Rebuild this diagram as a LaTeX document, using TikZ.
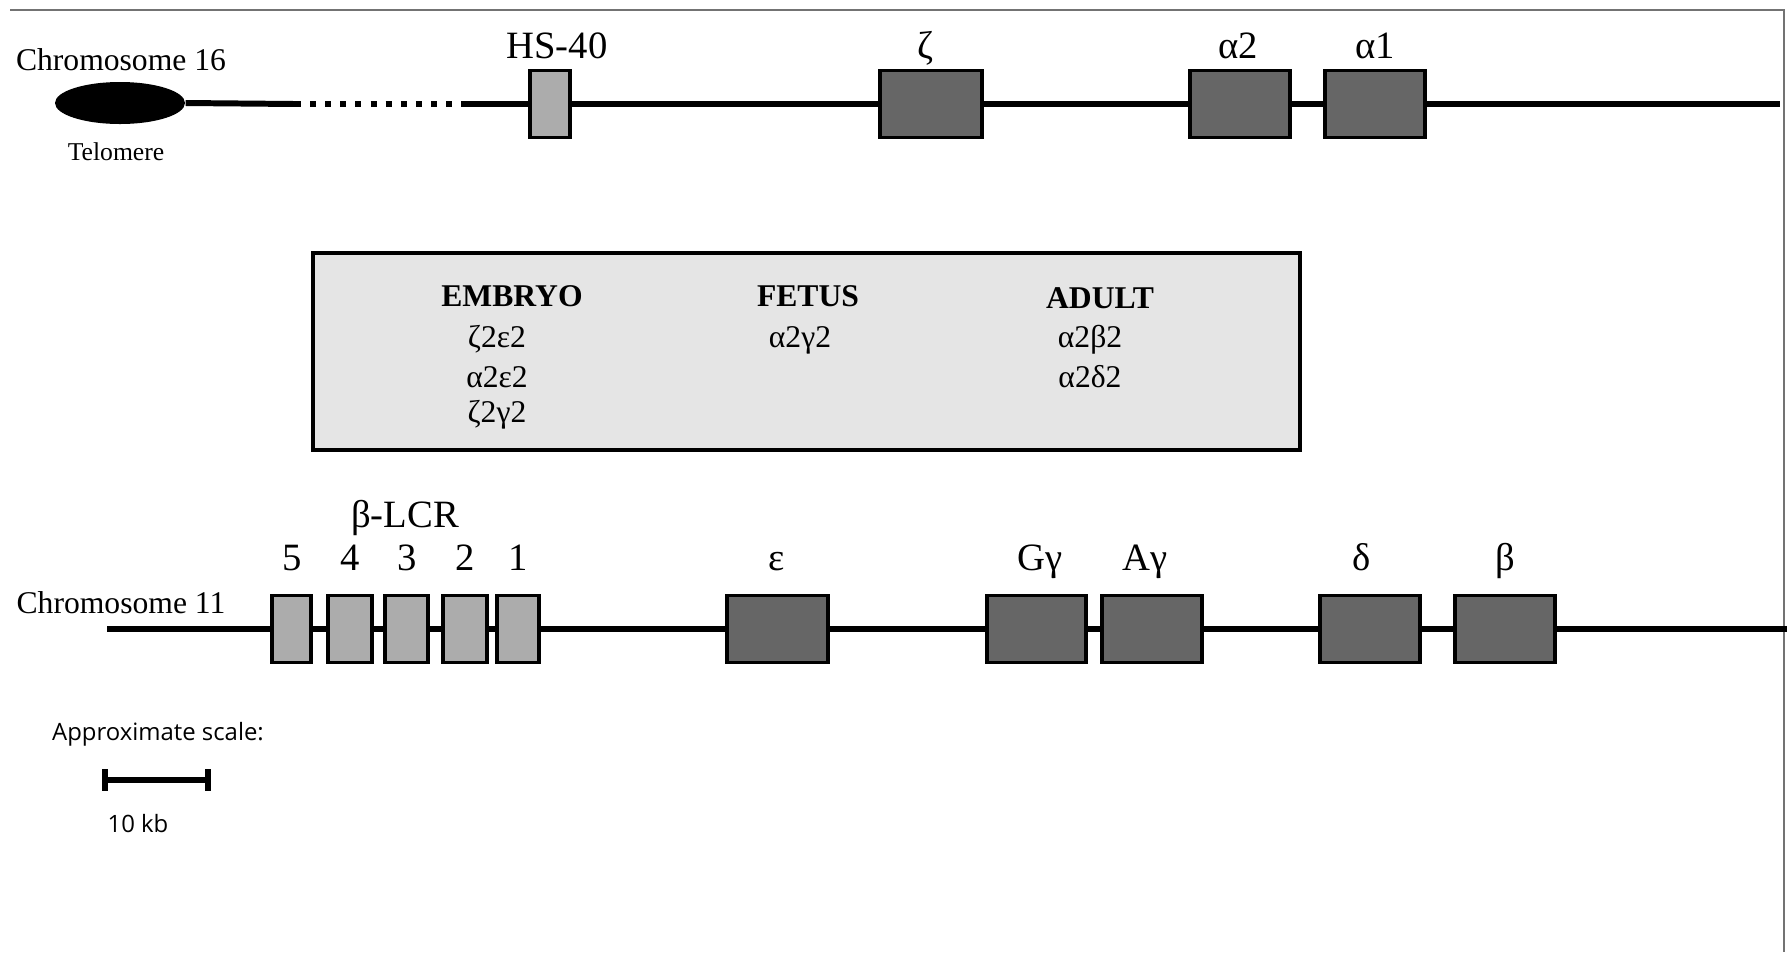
\documentclass[tikz,border=0pt]{standalone}
\usepackage{fontspec}
\setmainfont{Liberation Serif}
\newfontfamily\scalefont{Open Sans}
\usepackage{tikz}
\definecolor{genegray}{RGB}{102, 102, 102}
\definecolor{lcrgray}{RGB}{172, 172, 172}
\definecolor{panelgray}{RGB}{229, 229, 229}
\usetikzlibrary{shapes, positioning, shapes.geometric}

\begin{document}
\begin{tikzpicture}[
    chrom/.style={line width=1.7pt},
    gene/.style={rectangle, draw=black, line width=0.9pt, fill=genegray, minimum width=1cm, minimum height=0.67cm, inner sep=0pt},
    lcr/.style={rectangle, draw=black, line width=0.9pt, fill=lcrgray, minimum width=0.42cm, minimum height=0.67cm, inner sep=0pt},
    genename/.style={anchor=base, inner sep=0pt, font=\fontsize{11}{13}\selectfont},
    chromname/.style={anchor=base, inner sep=0pt, font=\fontsize{9}{11}\selectfont},
    stage/.style={anchor=base, inner sep=0pt, font=\fontsize{9}{11}\selectfont\bfseries},
    globin/.style={anchor=base, inner sep=0pt, font=\fontsize{9}{11}\selectfont},
    scaletext/.style={anchor=base, inner sep=0pt, font=\scalefont\fontsize{6.8}{8}\selectfont}
]
    \useasboundingbox (0, 0) rectangle (17.87, -9.52);
    \draw[black!55, line width=0.5pt] (0.10, -0.10) -- (17.84, -0.10) -- (17.84, -9.52);

    % chromosome 16
    \node[ellipse, fill=black, minimum width=1.30cm, minimum height=0.42cm, inner sep=0pt] (tel) at (1.20, -1.03) {};
    \node[chromname] (chrsixteen) at (1.21, -0.70) {Chromosome 16};
    \node[chromname, font=\fontsize{7.3}{9}\selectfont] (tellabel) at (1.16, -1.60) {Telomere};

    \node[lcr, minimum width=0.40cm] (hsforty) at (5.50, -1.04) {};
    \node[gene, minimum width=1.02cm] (zeta) at (9.31, -1.04) {};
    \node[gene] (alphatwo) at (12.40, -1.04) {};
    \node[gene] (alphaone) at (13.75, -1.04) {};

    \node[genename] (hslabel) at (5.57, -0.58) {HS-40};
    \node[genename] (zetalabel) at (9.25, -0.58) {ζ};
    \node[genename] (alphatwolabel) at (12.38, -0.58) {α2};
    \node[genename] (alphaonelabel) at (13.75, -0.58) {α1};

    \coordinate (dashfrom) at (2.95, -1.04);
    \coordinate (dashto) at (4.65, -1.04);
    \coordinate (sixteenend) at (17.80, -1.04);
    \draw[chrom] (tel.east) -- (dashfrom);
    \draw[chrom, dash pattern=on 1.7pt off 2.6pt] (dashfrom) -- (dashto);
    \draw[chrom] (dashto) -- (hsforty) -- (zeta) -- (alphatwo) -- (alphaone) -- (sixteenend);

    % hemoglobins by stage
    \node[rectangle, draw=black, line width=1.2pt, fill=panelgray, minimum width=9.87cm, minimum height=1.97cm, inner sep=0pt] (stages) at (8.065, -3.515) {};
    \node[stage] (embryo) at (5.12, -3.06) {EMBRYO};
    \node[globin] (embryoone) at (4.97, -3.47) {ζ2ε2};
    \node[globin] (embryotwo) at (4.97, -3.87) {α2ε2};
    \node[globin] (embryothree) at (4.97, -4.22) {ζ2γ2};
    \node[stage] (fetus) at (8.08, -3.06) {FETUS};
    \node[globin] (fetusone) at (8.00, -3.47) {α2γ2};
    \node[stage] (adult) at (11.00, -3.08) {ADULT};
    \node[globin] (adultone) at (10.90, -3.47) {α2β2};
    \node[globin] (adulttwo) at (10.90, -3.87) {α2δ2};

    % chromosome 11
    \node[chromname] (chreleven) at (1.21, -6.13) {Chromosome 11};

    \node[lcr, minimum width=0.39cm] (lcrfive) at (2.915, -6.29) {};
    \node[lcr, minimum width=0.44cm] (lcrfour) at (3.50, -6.29) {};
    \node[lcr, minimum width=0.43cm] (lcrthree) at (4.065, -6.29) {};
    \node[lcr, minimum width=0.44cm] (lcrtwo) at (4.65, -6.29) {};
    \node[lcr] (lcrone) at (5.18, -6.29) {};
    \node[gene, minimum width=1.01cm] (eps) at (7.775, -6.29) {};
    \node[gene, minimum width=0.99cm] (ggamma) at (10.365, -6.29) {};
    \node[gene] (agamma) at (11.52, -6.29) {};
    \node[gene] (delta) at (13.70, -6.29) {};
    \node[gene] (beta) at (15.05, -6.29) {};

    \node[genename] (lcrlabel) at (4.05, -5.27) {β-LCR};
    \node[genename] (fivelabel) at (2.92, -5.70) {5};
    \node[genename] (fourlabel) at (3.50, -5.70) {4};
    \node[genename] (threelabel) at (4.07, -5.70) {3};
    \node[genename] (twolabel) at (4.65, -5.70) {2};
    \node[genename] (onelabel) at (5.18, -5.70) {1};
    \node[genename] (epslabel) at (7.77, -5.70) {ε};
    \node[genename] (ggammalabel) at (10.40, -5.70) {Gγ};
    \node[genename] (agammalabel) at (11.45, -5.70) {Aγ};
    \node[genename] (deltalabel) at (13.62, -5.70) {δ};
    \node[genename] (betalabel) at (15.05, -5.70) {β};

    \coordinate (elevenstart) at (1.07, -6.29);
    \coordinate (elevenend) at (17.87, -6.29);
    \draw[chrom] (elevenstart) -- (lcrfive) -- (lcrfour) -- (lcrthree) -- (lcrtwo) -- (lcrone) -- (eps) -- (ggamma) -- (agamma) -- (delta) -- (beta) -- (elevenend);

    % scale bar
    \node[scaletext] (scalelabel) at (1.58, -7.40) {Approximate scale:};
    \coordinate (barleft) at (1.05, -7.80);
    \coordinate (barright) at (2.08, -7.80);
    \draw[line width=1.6pt] (barleft) -- (barright);
    \draw[line width=1.8pt] ([yshift=0.11cm]barleft) -- ([yshift=-0.11cm]barleft);
    \draw[line width=1.8pt] ([yshift=0.11cm]barright) -- ([yshift=-0.11cm]barright);
    \node[scaletext] (kblabel) at (1.38, -8.32) {10 kb};
\end{tikzpicture}
\end{document}
